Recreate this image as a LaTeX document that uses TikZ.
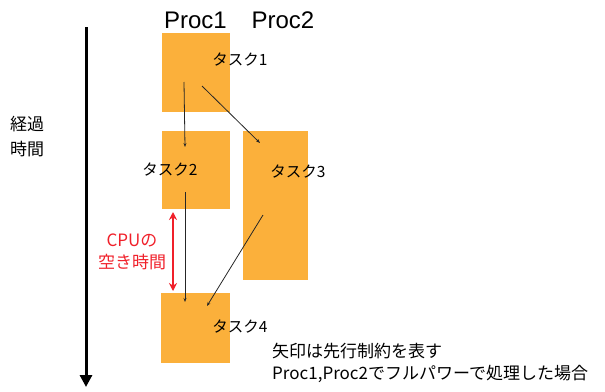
\documentclass[tikz,border=0pt]{standalone}
\usepackage{fontspec}
\setmainfont{Liberation Sans}
\newfontfamily\jp{Noto Sans CJK JP}
\usetikzlibrary{arrows.meta}
\definecolor{boxorange}{HTML}{FBB03B}
\definecolor{cpured}{HTML}{F0202A}
\tikzset{
  taskbox/.style={fill=boxorange,draw=none,inner sep=0pt},
  lbl/.style={font=\jp\fontsize{15.5}{17}\selectfont,inner sep=0pt},
  big/.style={font=\jp\fontsize{17}{19}\selectfont,inner sep=0pt},
  dep/.style={draw=black!85,line width=0.8pt,-{Stealth[length=4pt,width=3pt]}},
}
\begin{document}
\begin{tikzpicture}[x=1pt,y=-1pt]
\useasboundingbox (0,0) rectangle (605,391);
% boxes
\node[taskbox,minimum width=68pt,minimum height=79pt] (b1) at (196,72.5) {};
\node[taskbox,minimum width=68pt,minimum height=78pt] (b2) at (196,170) {};
\node[taskbox,minimum width=65pt,minimum height=149pt] (b3) at (275.5,205.5) {};
\node[taskbox,minimum width=69pt,minimum height=70pt] (b4) at (195.5,328) {};
% headers
\node[font=\fontsize{24}{26}\selectfont,inner sep=0pt] (p1) at (195.5,20) {Proc1};
\node[font=\fontsize{24}{26}\selectfont,inner sep=0pt] (p2) at (283,20) {Proc2};
% task labels
\node[lbl] (t1) at (240,60) {タスク1};
\node[lbl] (t2) at (170,170) {タスク2};
\node[lbl] (t3) at (298,172) {タスク3};
\node[lbl] (t4) at (240,327) {タスク4};
% dependency arrows
\coordinate (a1s) at (184,82);  \coordinate (a1e) at (185,147);
\coordinate (a2s) at (202,86);  \coordinate (a2e) at (260,143);
\coordinate (a3s) at (185,192); \coordinate (a3e) at (185,302);
\coordinate (a4s) at (263,215); \coordinate (a4e) at (207,306);
\draw[dep] (a1s) -- (a1e);
\draw[dep] (a2s) -- (a2e);
\draw[dep] (a3s) -- (a3e);
\draw[dep] (a4s) -- (a4e);
% time axis
\coordinate (ts) at (86,27); \coordinate (te) at (86,387);
\draw[line width=3pt,-{Triangle[length=12pt,width=12pt]}] (ts) -- (te);
\node[big] (time1) at (27,124.5) {経過};
\node[big] (time2) at (27,149) {時間};
% CPU idle
\coordinate (is) at (173,212); \coordinate (ie) at (173,291);
\draw[cpured,line width=2.5pt,{Stealth[length=8pt,width=8pt]}-{Stealth[length=8pt,width=8pt]}] (is) -- (ie);
\node[big,text=cpured] (idle1) at (132,240) {CPUの};
\node[big,text=cpured] (idle2) at (132,262) {空き時間};
% notes
\node[big,anchor=west] (n1) at (272,351) {矢印は先行制約を表す};
\node[big,anchor=west] (n2) at (272,374) {Proc1,Proc2でフルパワーで処理した場合};
\end{tikzpicture}
\end{document}
